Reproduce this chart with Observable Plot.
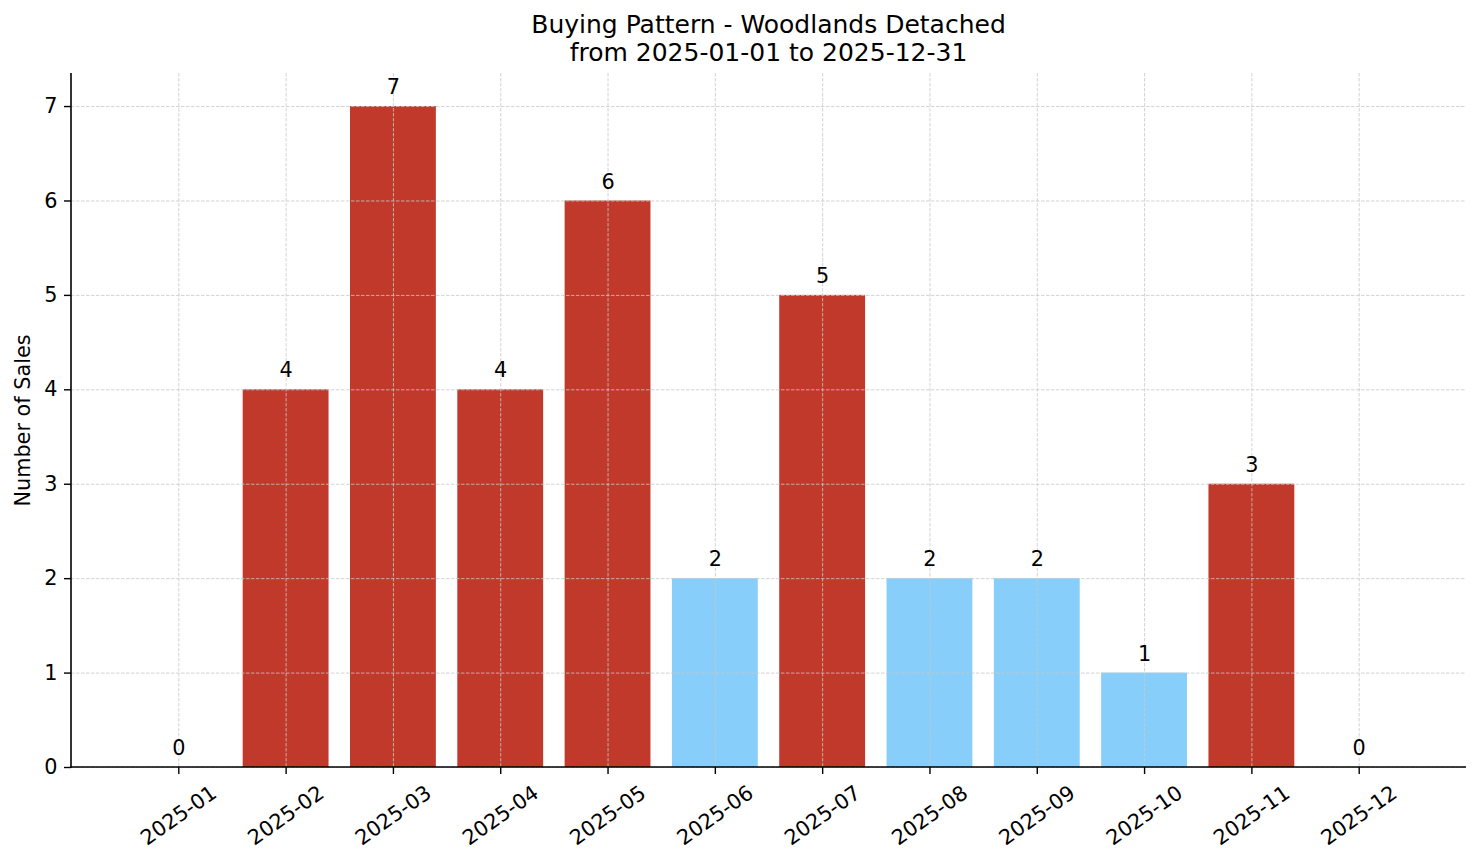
<!DOCTYPE html>
<html>
<head>
<meta charset="utf-8">
<script src="https://cdn.jsdelivr.net/npm/d3@7"></script>
<script src="https://cdn.jsdelivr.net/npm/@observablehq/plot@0.6"></script>
<style>
  html, body { margin: 0; padding: 0; background: #fff; }
  body { width: 1481px; height: 863px; overflow: hidden; font-family: "DejaVu Sans", sans-serif; }
  #title { height: 67px; box-sizing: border-box; padding-top: 11px; text-align: center; font-size: 25px; line-height: 28px; color: #000; padding-left: 56px; }
  #chart svg { display: block; }
</style>
</head>
<body>
<div id="title">Buying Pattern - Woodlands Detached<br>from 2025-01-01 to 2025-12-31</div>
<div id="chart"></div>
<script>
const months = ["2025-01","2025-02","2025-03","2025-04","2025-05","2025-06","2025-07","2025-08","2025-09","2025-10","2025-11","2025-12"];
const sales = [0, 4, 7, 4, 6, 2, 5, 2, 2, 1, 3, 0];
const highlight = [false, true, true, true, true, false, true, false, false, false, true, false];
const yTicks = [0, 1, 2, 3, 4, 5, 6, 7];

const RED = "#c0392b";
const BLUE = "#87cefa";

const data = months.map((m, i) => ({month: m, sales: sales[i], hot: highlight[i]}));

const spines = (index, scales, values, dims) => {
  const g = d3.create("svg:g");
  const l = dims.marginLeft, r = dims.width - dims.marginRight;
  const t = dims.marginTop, b = dims.height - dims.marginBottom;
  g.append("line").attr("x1", l).attr("x2", l).attr("y1", t).attr("y2", b + 0.75)
    .attr("stroke", "#000").attr("stroke-width", 1.6);
  g.append("line").attr("x1", l - 0.75).attr("x2", r).attr("y1", b).attr("y2", b)
    .attr("stroke", "#000").attr("stroke-width", 1.6);
  return g.node();
};

const chart = Plot.plot({
  width: 1481,
  height: 796,
  marginTop: 6,
  marginBottom: 96,
  marginLeft: 71,
  marginRight: 15,
  style: {fontFamily: "DejaVu Sans, sans-serif", fontSize: "20.8px", color: "#000", background: "#fff"},
  x: {domain: months, paddingInner: 0.2, paddingOuter: 0.6, round: false, label: null},
  y: {domain: [0, 7.35], label: null},
  marks: [
    Plot.barY(data, {x: "month", y: "sales", fill: d => d.hot ? RED : BLUE}),
    Plot.gridY(yTicks, {stroke: "#c8c8c8", strokeOpacity: 1, strokeWidth: 0.8, strokeDasharray: "3.5,1.5"}),
    Plot.gridX(months, {stroke: "#c8c8c8", strokeOpacity: 1, strokeWidth: 0.8, strokeDasharray: "3.5,1.5"}),
    Plot.axisY(yTicks, {tickSize: 7, tickPadding: 7, tickFormat: d => String(d), fontSize: 20.8, stroke: "#000", strokeWidth: 1.4, label: null}),
    Plot.axisX(months, {tickSize: 7, tickFormat: null, stroke: "#000", strokeWidth: 1.4, label: null}),
    Plot.text(months, {x: d => d, y: 0, text: d => d, rotate: -35, dy: 48, textAnchor: "middle", lineAnchor: "middle", fontSize: 20.8, fill: "#000"}),
    Plot.text(data, {x: "month", y: "sales", text: d => String(d.sales), dy: -19, textAnchor: "middle", lineAnchor: "middle", fontSize: 20.8, fill: "#000"}),
    Plot.text(["Number of Sales"], {frameAnchor: "left", dx: -48, rotate: -90, text: d => d, textAnchor: "middle", lineAnchor: "middle", fontSize: 20.8, fill: "#000"}),
    spines
  ]
});
document.getElementById("chart").appendChild(chart);
</script>
</body>
</html>
